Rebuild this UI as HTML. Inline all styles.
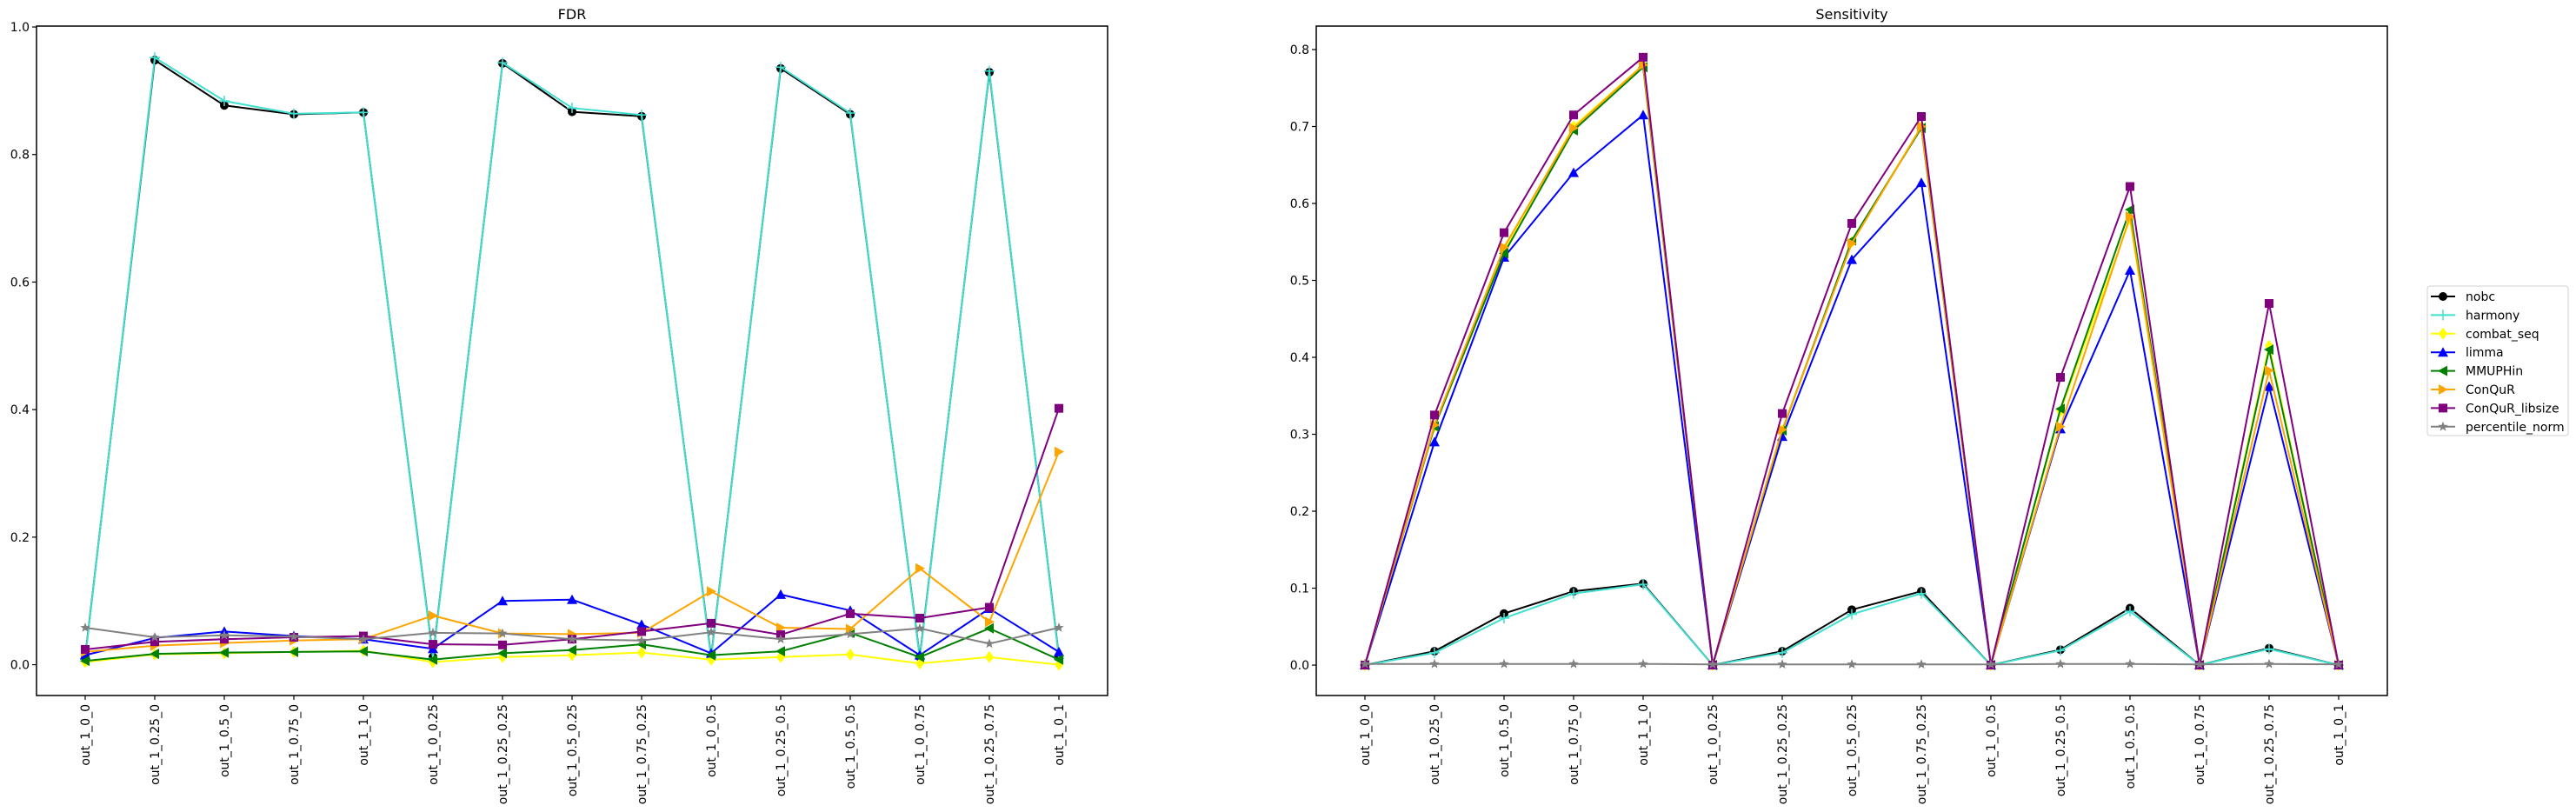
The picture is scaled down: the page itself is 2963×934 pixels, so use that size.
<!DOCTYPE html>
<html><head><meta charset="utf-8"><style>
html,body{margin:0;padding:0;background:#fff;}
svg{display:block;font-family:"DejaVu Sans","Liberation Sans",sans-serif;}
</style></head><body>
<svg id="chart" width="2963" height="934" viewBox="0 0 2963 934" xmlns="http://www.w3.org/2000/svg"></svg>
<script>
const categories = ["out_1_0_0","out_1_0.25_0","out_1_0.5_0","out_1_0.75_0","out_1_1_0","out_1_0_0.25","out_1_0.25_0.25","out_1_0.5_0.25","out_1_0.75_0.25","out_1_0_0.5","out_1_0.25_0.5","out_1_0.5_0.5","out_1_0_0.75","out_1_0.25_0.75","out_1_0_1"];
const seriesNames = ["nobc","harmony","combat_seq","limma","MMUPHin","ConQuR","ConQuR_libsize","percentile_norm"];
const fdrNobc = [0.012,0.948,0.877,0.863,0.866,0.012,0.943,0.867,0.860,0.012,0.935,0.863,0.012,0.929,0.012];
const fdrHarmony = [0.010,0.952,0.884,0.864,0.866,0.010,0.944,0.873,0.862,0.010,0.937,0.865,0.010,0.931,0.010];
const fdrCombat = [0.004,0.016,0.018,0.020,0.022,0.004,0.012,0.015,0.019,0.008,0.012,0.016,0.002,0.012,0.000];
const fdrLimma = [0.015,0.042,0.052,0.045,0.040,0.025,0.100,0.102,0.063,0.018,0.110,0.085,0.015,0.088,0.020];
const fdrMmuphin = [0.006,0.017,0.019,0.020,0.021,0.008,0.018,0.023,0.032,0.015,0.021,0.050,0.012,0.057,0.008];
const fdrConqur = [0.020,0.030,0.034,0.038,0.040,0.077,0.049,0.048,0.050,0.115,0.058,0.056,0.151,0.067,0.334];
const fdrLibsize = [0.024,0.036,0.040,0.043,0.045,0.032,0.031,0.040,0.052,0.065,0.047,0.080,0.073,0.090,0.402];
const fdrPercentile = [0.058,0.043,0.046,0.044,0.040,0.050,0.049,0.040,0.038,0.051,0.040,0.048,0.057,0.033,0.058];
const senNobc = [0,0.018,0.067,0.096,0.106,0,0.018,0.072,0.096,0,0.020,0.074,0,0.022,0];
const senHarmony = [0,0.016,0.061,0.093,0.105,0,0.016,0.066,0.093,0,0.019,0.070,0,0.021,0];
const senCombat = [0,0.310,0.540,0.700,0.780,0,0.305,0.550,0.700,0,0.330,0.580,0,0.415,0];
const senLimma = [0,0.290,0.530,0.640,0.715,0,0.297,0.527,0.627,0,0.307,0.513,0,0.362,0];
const senMmuphin = [0,0.310,0.535,0.695,0.777,0,0.305,0.552,0.698,0,0.333,0.592,0,0.410,0];
const senConqur = [0,0.312,0.543,0.698,0.780,0,0.306,0.548,0.700,0,0.310,0.583,0,0.383,0];
const senLibsize = [0,0.325,0.562,0.715,0.790,0,0.327,0.574,0.713,0,0.374,0.622,0,0.470,0];
const senPercentile = [0.0015,0.0015,0.0015,0.0015,0.0015,0.001,0.001,0.001,0.001,0.001,0.0015,0.0015,0.001,0.0015,0.001];
const fdrTicks = [0.0,0.2,0.4,0.6,0.8,1.0];
const senTicks = [0.0,0.1,0.2,0.3,0.4,0.5,0.6,0.7,0.8];

const NS = "http://www.w3.org/2000/svg";
const svg = document.getElementById('chart');
const colors = ["#000000","#40e0d0","#ffff00","#0000ff","#008000","#ffa500","#800080","#808080"];
const markers = ["o","+","d","^","<",">","s","*"];

function el(tag, attrs, parent){
  const e = document.createElementNS(NS, tag);
  for (const k in attrs) e.setAttribute(k, attrs[k]);
  (parent||svg).appendChild(e);
  return e;
}
function marker(g, type, x, y, c){
  const r = 5;
  let m;
  if (type==="o") m = el('circle',{cx:x,cy:y,r:5,fill:c},g);
  else if (type==="+") m = el('path',{d:`M${x-6},${y}H${x+6}M${x},${y-6}V${y+6}`,stroke:c,'stroke-width':1.5,fill:'none'},g);
  else if (type==="d") m = el('polygon',{points:`${x},${y-7} ${x+5},${y} ${x},${y+7} ${x-5},${y}`,fill:c},g);
  else if (type==="^") m = el('polygon',{points:`${x},${y-6} ${x+6},${y+5} ${x-6},${y+5}`,fill:c},g);
  else if (type==="<") m = el('polygon',{points:`${x-6},${y} ${x+5},${y-6} ${x+5},${y+6}`,fill:c},g);
  else if (type===">") m = el('polygon',{points:`${x+6},${y} ${x-5},${y-6} ${x-5},${y+6}`,fill:c},g);
  else if (type==="s") m = el('rect',{x:x-5,y:y-5,width:10,height:10,fill:c},g);
  else { let p=[]; for(let i=0;i<10;i++){const a=-Math.PI/2+i*Math.PI/5; const rr=i%2?2.5:6; p.push((x+rr*Math.cos(a)).toFixed(1)+','+(y+rr*Math.sin(a)).toFixed(1));} m = el('polygon',{points:p.join(' '),fill:c},g); }
  return m;
}

function panel(name, left, title, ymin, ymax, ticks, tickFmt, data){
  const top=30, bottom=800, width=1232, n=categories.length;
  const step = width/(n-1+1.4);
  const xs = i => left + (i+0.7)*step;
  const ys = v => bottom - (v - ymin)/(ymax - ymin)*(bottom-top);
  const g = el('g',{});
  
  
  const t = el('text',{x:left+width/2,y:22,'text-anchor':'middle','font-size':16},g);
  t.textContent = title;
  
  
  // y ticks
  const ya = el('g',{},g);
  
  
  ticks.forEach(v=>{
    const y=ys(v);
    el('line',{x1:left-5,x2:left,y1:y,y2:y,stroke:'#000','stroke-width':1.2},ya);
    const tt=el('text',{x:left-8,y:y+5,'text-anchor':'end','font-size':14},ya);
    tt.textContent=tickFmt(v);
    
    
  });
  const xa = el('g',{},g);
  
  
  categories.forEach((c,i)=>{
    const x=xs(i);
    el('line',{x1:x,x2:x,y1:bottom,y2:bottom+5,stroke:'#000','stroke-width':1.2},xa);
    const tt=el('text',{x:0,y:0,'text-anchor':'end','font-size':14,transform:`translate(${x+5},${bottom+10}) rotate(-90)`},xa);
    tt.textContent=c;
    
    
  });
  data.forEach((vals,si)=>{
    const sg = el('g',{},g);
    
    
    const pts = vals.map((v,i)=>xs(i).toFixed(1)+','+ys(v).toFixed(1)).join(' ');
    el('polyline',{points:pts,fill:'none',stroke:colors[si],'stroke-width':2,'stroke-linejoin':'round'},sg);
    vals.forEach((v,i)=>{
      const m = marker(sg, markers[si], xs(i), ys(v), colors[si]);
      
      
    });
  });
  const frame = el('rect',{x:left,y:top,width:width,height:bottom-top,fill:'none',stroke:'#000','stroke-width':1.5},g);
  
  
}

panel('fdr', 42, 'FDR', -0.0483, 1.0014, fdrTicks, v=>v.toFixed(1),
  [fdrNobc,fdrHarmony,fdrCombat,fdrLimma,fdrMmuphin,fdrConqur,fdrLibsize,fdrPercentile]);
panel('sensitivity', 1514, 'Sensitivity', -0.0395, 0.8305, senTicks, v=>v.toFixed(1),
  [senNobc,senHarmony,senCombat,senLimma,senMmuphin,senConqur,senLibsize,senPercentile]);

// legend
const lg = el('g',{});


el('rect',{x:2792,y:329,width:162,height:172,rx:3,fill:'#fff',stroke:'#d0d0d0','stroke-width':1},lg);
seriesNames.forEach((s,i)=>{
  const y = 341 + i*21.4;
  const eg = el('g',{},lg);
  
  
  el('line',{x1:2796,x2:2824,y1:y,y2:y,stroke:colors[i],'stroke-width':2},eg);
  marker(eg, markers[i], 2810, y, colors[i]);
  const t = el('text',{x:2836,y:y+5,'font-size':14},eg);
  t.textContent = s;
});
</script>
</body></html>
